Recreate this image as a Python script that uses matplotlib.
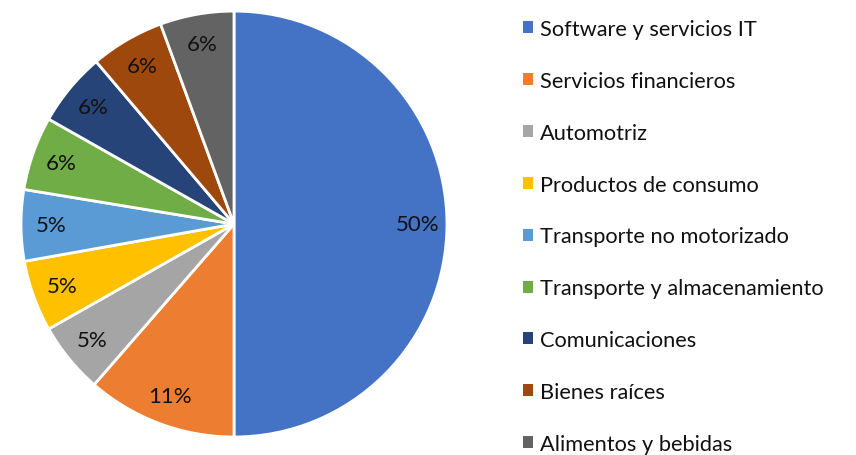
import matplotlib.pyplot as plt
from matplotlib.patches import Patch

plt.rcParams['font.family'] = ['Lato', 'DejaVu Sans']

sectores = ["Software y servicios IT", "Servicios financieros", "Automotriz",
            "Productos de consumo", "Transporte no motorizado",
            "Transporte y almacenamiento", "Comunicaciones", "Bienes raíces",
            "Alimentos y bebidas"]
valores = [50.0, 11.4, 5.4, 5.4, 5.4, 5.6, 5.6, 5.6, 5.6]
colores = ["#4472C4", "#ED7D31", "#A5A5A5", "#FFC000", "#5B9BD5",
           "#70AD47", "#264478", "#9E480E", "#636363"]

fig = plt.figure(figsize=(8.56, 4.56), dpi=100)
ax = fig.add_axes([0.0245, 0.0395, 0.4977, 0.934])
ax.pie(valores, colors=colores, startangle=90, counterclock=False,
       autopct=lambda p: f"{p:.0f}%", pctdistance=0.86,
       wedgeprops=dict(edgecolor='white', linewidth=2),
       textprops=dict(fontsize=16, color='#111111'))
ax.set_xlim(-1.0, 1.0)
ax.set_ylim(-1.0, 1.0)
ax.set_aspect('equal')

handles = [Patch(facecolor=c, edgecolor='none') for c in colores]
fig.legend(handles, sectores, loc='upper left', bbox_to_anchor=(0.601, 0.975),
           frameon=False, fontsize=15.7, handlelength=0.47, handleheight=0.47,
           handletextpad=0.3, labelspacing=1.46, borderaxespad=0,
           labelcolor='#111111')

fig.savefig("out.png", dpi=100)
